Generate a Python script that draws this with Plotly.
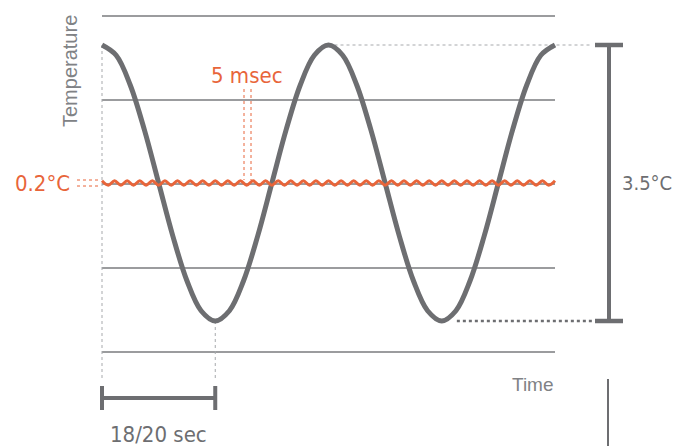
import plotly.graph_objects as go

# ---------------- data ----------------
# slow temperature swing (deg C relative to mean), sampled every 1/16 period
wave_time = [0, 0.1125, 0.225, 0.3375, 0.45, 0.5625, 0.675, 0.7875, 0.9,
             1.0125, 1.125, 1.2375, 1.35, 1.4625, 1.575, 1.6875, 1.8,
             1.9125, 2.025, 2.1375, 2.25, 2.3625, 2.475, 2.5875, 2.7,
             2.8125, 2.925, 3.0375, 3.15, 3.2625, 3.375, 3.4875, 3.6]
wave_temp = [1.75, 1.62, 1.24, 0.67, 0, -0.67, -1.24, -1.62, -1.75,
             -1.62, -1.24, -0.67, 0, 0.67, 1.24, 1.62, 1.75,
             1.62, 1.24, 0.67, 0, -0.67, -1.24, -1.62, -1.75,
             -1.62, -1.24, -0.67, 0, 0.67, 1.24, 1.62, 1.75]

# fast ripple (schematic), peaks and troughs
ripple_time = [0, 0.05, 0.1, 0.15, 0.2, 0.25, 0.3, 0.35, 0.4, 0.45, 0.5, 0.55,
               0.6, 0.65, 0.7, 0.75, 0.8, 0.85, 0.9, 0.95, 1.0, 1.05, 1.1, 1.15,
               1.2, 1.25, 1.3, 1.35, 1.4, 1.45, 1.5, 1.55, 1.6, 1.65, 1.7, 1.75,
               1.8, 1.85, 1.9, 1.95, 2.0, 2.05, 2.1, 2.15, 2.2, 2.25, 2.3, 2.35,
               2.4, 2.45, 2.5, 2.55, 2.6, 2.65, 2.7, 2.75, 2.8, 2.85, 2.9, 2.95,
               3.0, 3.05, 3.1, 3.15, 3.2, 3.25, 3.3, 3.35, 3.4, 3.45, 3.5, 3.55, 3.6]
ripple_temp = [0.028, -0.028, 0.028, -0.028, 0.028, -0.028, 0.028, -0.028, 0.028, -0.028,
               0.028, -0.028, 0.028, -0.028, 0.028, -0.028, 0.028, -0.028, 0.028, -0.028,
               0.028, -0.028, 0.028, -0.028, 0.028, -0.028, 0.028, -0.028, 0.028, -0.028,
               0.028, -0.028, 0.028, -0.028, 0.028, -0.028, 0.028, -0.028, 0.028, -0.028,
               0.028, -0.028, 0.028, -0.028, 0.028, -0.028, 0.028, -0.028, 0.028, -0.028,
               0.028, -0.028, 0.028, -0.028, 0.028, -0.028, 0.028, -0.028, 0.028, -0.028,
               0.028, -0.028, 0.028, -0.028, 0.028, -0.028, 0.028, -0.028, 0.028, -0.028,
               0.028, -0.028, 0.028]

label_temp_axis = "Temperature"
label_time_axis = "Time"
label_ripple_amp = "0.2°C"
label_ripple_period = "5 msec"
label_swing = "3.5°C"
label_half_period = "18/20 sec"

# ---------------- layout helpers ----------------
W, H = 674, 446
PX_X0, PX_X1 = 102, 555
PX_YTOP, PX_YBOT = 45, 321
PX_PER_S = (PX_X1 - PX_X0) / (wave_time[-1] - wave_time[0])
PX_PER_C = (PX_YBOT - PX_YTOP) / (max(wave_temp) - min(wave_temp))
PX_YMID = (PX_YTOP + PX_YBOT) / 2


def tx(px):
    return (px - PX_X0) / PX_PER_S


def ty(py):
    return (PX_YMID - py) / PX_PER_C


GRAY = "#6d6e71"
GRID = "#7a7b7e"
ORANGE = "#e8653a"
LABEL_GRAY = "#808285"
NARROW = "Liberation Sans Narrow, DejaVu Sans Condensed, Arial Narrow, sans-serif"
REG = "Liberation Sans, Arial, sans-serif"

hi, lo = max(wave_temp), min(wave_temp)
t_peak = wave_time[wave_temp.index(hi)]
t_trough = wave_time[wave_temp.index(lo)]
t_peak2 = wave_time[16]
t_trough2 = wave_time[24]
t_end = wave_time[-1]

fig = go.Figure()

shapes = []
# grid lines
for py in [16, 100, 184, 268, 352]:
    shapes.append(dict(type="line", xref="x", yref="y", x0=wave_time[0], x1=t_end,
                       y0=ty(py), y1=ty(py), line=dict(color=GRID, width=1.3), layer="below"))
# gray dotted guides
shapes += [
    dict(type="line", x0=t_peak, x1=t_peak, y0=hi, y1=ty(378),
         line=dict(color="#a7a9ac", width=1, dash="dot"), layer="below"),
    dict(type="line", x0=t_trough, x1=t_trough, y0=lo, y1=ty(378),
         line=dict(color="#a7a9ac", width=1, dash="dot"), layer="below"),
    dict(type="line", x0=t_peak2, x1=tx(592), y0=hi, y1=hi,
         line=dict(color="#a7a9ac", width=1, dash="dot"), layer="below"),
    dict(type="line", x0=t_trough2 + 0.12, x1=tx(592), y0=lo, y1=lo,
         line=dict(color=GRAY, width=2.5, dash="dot"), layer="below"),
]
# orange dotted guides
for px in [244, 251]:
    shapes.append(dict(type="line", x0=tx(px), x1=tx(px), y0=ty(89), y1=ty(180),
                       line=dict(color=ORANGE, width=1, dash="dot")))
for py in [180, 186]:
    shapes.append(dict(type="line", x0=tx(77), x1=tx(98), y0=ty(py), y1=ty(py),
                       line=dict(color=ORANGE, width=1, dash="dot")))
# half-period scale bar
yb = ty(398)
shapes += [
    dict(type="line", x0=t_peak, x1=t_trough, y0=yb, y1=yb, line=dict(color=GRAY, width=4)),
    dict(type="line", x0=t_peak, x1=t_peak, y0=ty(386), y1=ty(410), line=dict(color=GRAY, width=4)),
    dict(type="line", x0=t_trough, x1=t_trough, y0=ty(386), y1=ty(410), line=dict(color=GRAY, width=4)),
]
# swing scale bar
xs = tx(609)
shapes += [
    dict(type="line", x0=xs, x1=xs, y0=hi, y1=lo, line=dict(color=GRAY, width=4)),
    dict(type="line", x0=tx(595), x1=tx(623), y0=hi, y1=hi, line=dict(color=GRAY, width=4.5)),
    dict(type="line", x0=tx(595), x1=tx(623), y0=lo, y1=lo, line=dict(color=GRAY, width=4.5)),
    dict(type="line", x0=tx(608), x1=tx(608), y0=ty(379), y1=ty(H + 5), line=dict(color=GRAY, width=2)),
]

fig.add_trace(go.Scatter(x=wave_time, y=wave_temp, mode="lines",
                         line=dict(color=GRAY, width=5, shape="spline", smoothing=1.0),
                         hoverinfo="skip", showlegend=False))
fig.add_trace(go.Scatter(x=ripple_time, y=ripple_temp, mode="lines",
                         line=dict(color=ORANGE, width=3, shape="spline", smoothing=1.0),
                         hoverinfo="skip", showlegend=False))

annotations = [
    dict(x=tx(70), y=ty(71), text=label_temp_axis, textangle=-90, showarrow=False,
         font=dict(family=REG, size=20, color=LABEL_GRAY), xanchor="center", yanchor="middle"),
    dict(x=tx(556), y=ty(384), text=label_time_axis, showarrow=False,
         font=dict(family=REG, size=19, color=LABEL_GRAY), xanchor="right", yanchor="middle"),
    dict(x=tx(72), y=0, text=label_ripple_amp, showarrow=False,
         font=dict(family=NARROW, size=22, color=ORANGE), xanchor="right", yanchor="middle"),
    dict(x=tx(247), y=ty(75), text=label_ripple_period, showarrow=False,
         font=dict(family=NARROW, size=22, color=ORANGE), xanchor="center", yanchor="middle"),
    dict(x=tx(620), y=0, text=label_swing, showarrow=False,
         font=dict(family=NARROW, size=20, color=GRAY), xanchor="left", yanchor="middle"),
    dict(x=(t_peak + t_trough) / 2, y=ty(434), text=label_half_period, showarrow=False,
         font=dict(family=NARROW, size=22, color=GRAY), xanchor="center", yanchor="middle"),
]

fig.update_layout(
    width=W, height=H,
    margin=dict(l=0, r=0, t=0, b=0),
    paper_bgcolor="white", plot_bgcolor="white",
    xaxis=dict(range=[tx(0), tx(W)], visible=False, fixedrange=True),
    yaxis=dict(range=[ty(H), ty(0)], visible=False, fixedrange=True),
    shapes=shapes, annotations=annotations, showlegend=False,
)

fig.write_html("out.html", config={"displayModeBar": False},
               post_script="document.body.style.margin='0px';document.body.style.overflow='hidden';")
